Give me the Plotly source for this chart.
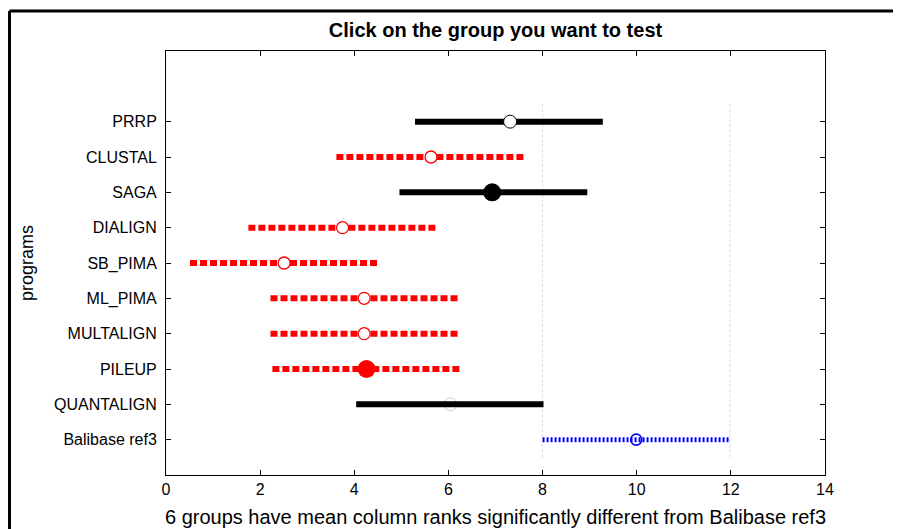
import plotly.graph_objects as go

# ---- data ----
programs = ["Balibase ref3", "QUANTALIGN", "PILEUP", "MULTALIGN", "ML_PIMA",
            "SB_PIMA", "DIALIGN", "SAGA", "CLUSTAL", "PRRP"]
means = [9.99, 6.04, 4.26, 4.21, 4.21, 2.51, 3.75, 6.93, 5.63, 7.31]
lower = [8.00, 4.04, 2.26, 2.22, 2.22, 0.51, 1.75, 4.96, 3.62, 5.29]
upper = [11.98, 8.02, 6.26, 6.21, 6.21, 4.53, 5.75, 8.95, 7.63, 9.28]
selected = "Balibase ref3"
x_ticks = [0, 2, 4, 6, 8, 10, 12, 14]

title_text = "Click on the group you want to test"
y_title = "programs"

# ---- styles ----
FONT = "Liberation Sans, Arial, sans-serif"
marker_style = {
    "SAGA": dict(symbol="circle", size=18, color="black", line=dict(width=0)),
    "PILEUP": dict(symbol="circle", size=18, color="#ff0000", line=dict(width=0)),
}

sel_idx = programs.index(selected)
ref_lo, ref_hi = lower[sel_idx], upper[sel_idx]
n_sig = 0

fig = go.Figure()

# reference interval guide lines
for xv in (ref_lo, ref_hi):
    fig.add_shape(type="line", xref="x", yref="y", x0=xv, x1=xv, y0=0.5, y1=len(programs) + 0.5,
                  line=dict(color="#dcdcdc", width=1, dash="3px,2px"), layer="below")

for i, name in enumerate(programs):
    y = i + 1
    if name == selected:
        color, dash, width = "#0000ff", "2px,2px", 5
        mk = dict(symbol="circle-open", size=11, color="#0000ff", line=dict(width=1.6, color="#0000ff"))
        under = False
    elif upper[i] < ref_lo or lower[i] > ref_hi:
        n_sig += 1
        color, dash, width = "#ff0000", "7px,3px", 6
        mk = marker_style.get(name, dict(symbol="circle", size=12, color="white",
                                         line=dict(width=1.3, color="#ff0000")))
        under = False
    else:
        color, dash, width = "black", "solid", 6
        if name == "QUANTALIGN":
            mk = dict(symbol="circle-open", size=13, color="#cccccc", line=dict(width=1, color="#cccccc"))
            under = True
        else:
            mk = marker_style.get(name, dict(symbol="circle", size=13, color="white",
                                             line=dict(width=1, color="black")))
            under = False
    mtrace = go.Scatter(x=[means[i]], y=[y], mode="markers", marker=mk,
                        showlegend=False, hoverinfo="skip")
    if under:
        fig.add_trace(mtrace)
    fig.add_trace(go.Scatter(x=[lower[i], upper[i]], y=[y, y], mode="lines",
                             line=dict(color=color, width=width, dash=dash),
                             showlegend=False, hoverinfo="skip"))
    if not under:
        fig.add_trace(mtrace)

x_title = f"{n_sig} groups have mean column ranks significantly different from {selected}"

# page body has an 8px margin, so the figure is sized/offset to compensate
W, H = 893, 521
L, R, T, B = 158, 76, 43, 54
pw, ph = W - L - R, H - T - B

def px_x(p):
    return (p - L) / pw

def px_y(p):
    return (H - B - p) / ph

# outer window frame
fig.add_shape(type="line", xref="paper", yref="paper", x0=px_x(1.5), x1=px_x(W), y0=px_y(3), y1=px_y(3),
              line=dict(color="black", width=3))
fig.add_shape(type="line", xref="paper", yref="paper", x0=px_x(1.5), x1=px_x(1.5), y0=px_y(3), y1=px_y(H),
              line=dict(color="black", width=3))

fig.update_layout(
    width=W, height=H,
    margin=dict(l=L, r=R, t=T, b=B),
    paper_bgcolor="white", plot_bgcolor="white",
    font=dict(family=FONT, color="black"),
    title=dict(text=f"<b>{title_text}</b>", x=0.5, xref="paper", y=1 - 22 / H, yref="container",
               xanchor="center", yanchor="middle", font=dict(size=20, family=FONT, color="black")),
    xaxis=dict(range=[0, 14], tickvals=x_ticks, ticks="inside", ticklen=5, tickcolor="black",
               showline=True, linecolor="black", linewidth=1, mirror="allticks",
               showgrid=False, zeroline=False, tickfont=dict(size=16, family=FONT),
               automargin=False,
               title=dict(text=x_title, font=dict(size=20, family=FONT), standoff=12)),
    yaxis=dict(range=[0, len(programs) + 2], tickvals=list(range(1, len(programs) + 1)),
               ticktext=programs, ticks="inside", ticklen=5, tickcolor="black",
               showline=True, linecolor="black", linewidth=1, mirror="allticks",
               showgrid=False, zeroline=False, tickfont=dict(size=16, family=FONT),
               ticklabelstandoff=5, automargin=False,
               title=dict(text=y_title, font=dict(size=18, family=FONT), standoff=15)),
)

fig.write_html("out.html")
